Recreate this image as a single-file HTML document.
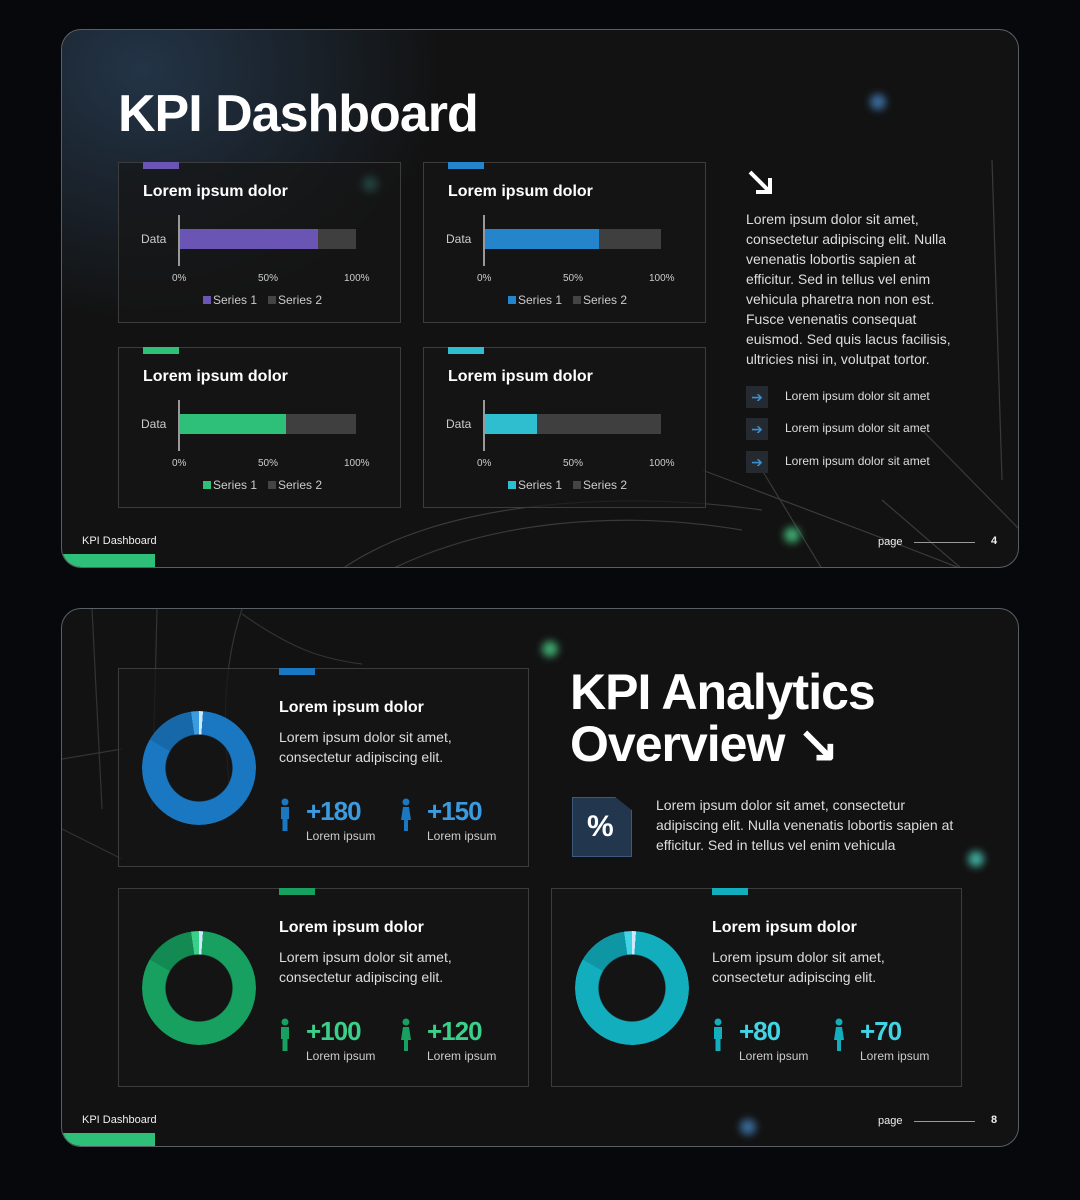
<!DOCTYPE html>
<html><head><meta charset="utf-8"><style>
*{margin:0;padding:0;box-sizing:border-box}
body{width:1080px;height:1200px;background:#06080c;position:relative;overflow:hidden;font-family:"Liberation Sans",sans-serif;color:#fff}
.a{position:absolute}
.slide{position:absolute;left:61px;width:958px;border:1px solid #5a5f66;border-radius:20px;overflow:hidden;background:#121212}
.panel{position:absolute;border:1.5px solid #3c3c3c;background:rgba(22,22,22,.7)}
.acc{position:absolute;height:7px;width:36px}
.t{font-weight:bold;font-size:16px;white-space:nowrap}
.sm{font-size:11px;color:#ccc;white-space:nowrap}
.body{font-size:14px;color:#ddd;line-height:20px}
.num{font-weight:bold;font-size:26px;white-space:nowrap;letter-spacing:-1px}
.glow{position:absolute;width:16px;height:16px;border-radius:50%;filter:blur(4px)}
</style></head><body>

<!-- Slide 1 -->
<div class="slide" style="top:29px;height:539px;background:radial-gradient(ellipse 300px 250px at 80px 40px,#233447 0%,rgba(20,22,26,0) 100%),#121212">
<svg class="a" style="left:0;top:0" width="958" height="539" fill="none" stroke="#3a3a3a" stroke-width="1.2">
<path d="M280 539 C380 470 560 460 700 480"/><path d="M330 539 C430 490 560 480 680 500"/>
<path d="M640 440 C720 470 800 500 900 539"/><path d="M700 440 L760 539"/><path d="M820 470 L900 539"/>
<path d="M860 400 L958 500"/><path d="M930 130 L940 450"/>
</svg>
<div class="glow" style="left:808px;top:64px;background:#3a6a9a"></div>
<div class="glow" style="left:300px;top:146px;background:#3fa89a"></div>
<div class="glow" style="left:722px;top:497px;background:#3fa870"></div>
<div class="a" style="left:56px;top:54px;font-size:52px;font-weight:bold;letter-spacing:-1px">KPI Dashboard</div>
<div class="a sm" style="left:20px;top:505px;color:#eee">KPI Dashboard</div>
<div class="a" style="left:0;top:524px;width:93px;height:15px;background:#2ebf78"></div>
<div class="a sm" style="left:816px;top:506px;color:#eee">page</div>
<div class="a" style="left:852px;top:512px;width:61px;height:1px;background:#999"></div>
<div class="a sm" style="left:929px;top:505px;color:#eee;font-weight:bold">4</div>
<svg class="a" style="left:684px;top:138px" width="30" height="30"><path d="M4 4 L24 24 M10 24 H24 V10" stroke="#fff" stroke-width="4" fill="none"/></svg>
<div class="a body" style="left:684px;top:179px;width:220px">Lorem ipsum dolor sit amet, consectetur adipiscing elit. Nulla venenatis lobortis sapien at efficitur. Sed in tellus vel enim vehicula pharetra non non est. Fusce venenatis consequat euismod. Sed quis lacus facilisis, ultricies nisi in, volutpat tortor.</div>
</div>

<!-- Slide 2 -->
<div class="slide" style="top:608px;height:539px">
<svg class="a" style="left:0;top:0" width="958" height="539" fill="none" stroke="#333" stroke-width="1.2">
<path d="M30 0 L40 200"/><path d="M95 0 L90 200"/><path d="M180 0 C160 60 160 120 170 200"/><path d="M180 5 C230 40 260 50 300 55"/>
<path d="M0 150 L60 140"/><path d="M0 220 L60 250"/>
</svg>
<div class="glow" style="left:480px;top:32px;background:#3fa870"></div>
<div class="glow" style="left:906px;top:242px;background:#3fa89a"></div>
<div class="glow" style="left:678px;top:510px;background:#3a6a9a"></div>
<div class="a" style="left:508px;top:57px;font-size:50px;font-weight:bold;line-height:52px;letter-spacing:-1px">KPI Analytics<br>Overview ↘</div>
<div class="a" style="left:510px;top:188px;width:60px;height:60px;background:#22364d;border:1px solid #3d5a7a;clip-path:polygon(0 0,72% 0,100% 22%,100% 100%,0 100%)"></div>
<div class="a" style="left:525px;top:201px;font-size:30px;font-weight:bold">%</div>
<div class="a body" style="left:594px;top:186px;width:305px">Lorem ipsum dolor sit amet, consectetur adipiscing elit. Nulla venenatis lobortis sapien at efficitur. Sed in tellus vel enim vehicula</div>
<div class="a sm" style="left:20px;top:505px;color:#eee">KPI Dashboard</div>
<div class="a" style="left:0;top:524px;width:93px;height:15px;background:#2ebf78"></div>
<div class="a sm" style="left:816px;top:506px;color:#eee">page</div>
<div class="a" style="left:852px;top:512px;width:61px;height:1px;background:#999"></div>
<div class="a sm" style="left:929px;top:505px;color:#eee;font-weight:bold">8</div>
</div>

<!-- bullets -->
<div class="a" style="left:746px;top:386px;width:22px;height:22px;background:#252a30;color:#3a8fd0;font-size:14px;text-align:center;line-height:22px">➔</div>
<div class="a" style="left:746px;top:418px;width:22px;height:22px;background:#252a30;color:#3a8fd0;font-size:14px;text-align:center;line-height:22px">➔</div>
<div class="a" style="left:746px;top:451px;width:22px;height:22px;background:#252a30;color:#3a8fd0;font-size:14px;text-align:center;line-height:22px">➔</div>
<div class="a sm" style="left:785px;top:389px;font-size:12px;color:#ddd">Lorem ipsum dolor sit amet</div>
<div class="a sm" style="left:785px;top:421px;font-size:12px;color:#ddd">Lorem ipsum dolor sit amet</div>
<div class="a sm" style="left:785px;top:454px;font-size:12px;color:#ddd">Lorem ipsum dolor sit amet</div>

<!-- bar panels -->
<div class="panel" style="left:118px;top:162px;width:283px;height:161px"></div>
<div class="panel" style="left:423px;top:162px;width:283px;height:161px"></div>
<div class="panel" style="left:118px;top:347px;width:283px;height:161px"></div>
<div class="panel" style="left:423px;top:347px;width:283px;height:161px"></div>

<div id="bars"></div>
<script>
var B=[[118,162,'#6a55b4',138],[423,162,'#2485cc',114],[118,347,'#2ebf78',106],[423,347,'#2ebed0',52]];
var h='';
B.forEach(function(b){var x=b[0],y=b[1];
h+='<div class="acc" style="left:'+(x+25)+'px;top:'+y+'px;background:'+b[2]+'"></div>';
h+='<div class="a t" style="left:'+(x+25)+'px;top:'+(y+21)+'px">Lorem ipsum dolor</div>';
h+='<div class="a sm" style="left:'+(x+23)+'px;top:'+(y+70)+'px;font-size:12px">Data</div>';
h+='<div class="a" style="left:'+(x+60)+'px;top:'+(y+53)+'px;width:2px;height:51px;background:#999"></div>';
h+='<div class="a" style="left:'+(x+62)+'px;top:'+(y+67)+'px;width:176px;height:20px;background:#3f3f3f"></div>';
h+='<div class="a" style="left:'+(x+62)+'px;top:'+(y+67)+'px;width:'+b[3]+'px;height:20px;background:'+b[2]+'"></div>';
h+='<div class="a sm" style="left:'+(x+54)+'px;top:'+(y+111)+'px;font-size:10px">0%</div>';
h+='<div class="a sm" style="left:'+(x+140)+'px;top:'+(y+111)+'px;font-size:10px">50%</div>';
h+='<div class="a sm" style="left:'+(x+226)+'px;top:'+(y+111)+'px;font-size:10px">100%</div>';
h+='<div class="a" style="left:'+(x+85)+'px;top:'+(y+134)+'px;width:8px;height:8px;background:'+b[2]+'"></div>';
h+='<div class="a sm" style="left:'+(x+95)+'px;top:'+(y+131)+'px;font-size:12px">Series 1</div>';
h+='<div class="a" style="left:'+(x+150)+'px;top:'+(y+134)+'px;width:8px;height:8px;background:#444"></div>';
h+='<div class="a sm" style="left:'+(x+160)+'px;top:'+(y+131)+'px;font-size:12px">Series 2</div>';
});
var D=[[118,668,'#1a78c2','#1668a8','#3a9be0','+180','+150'],[118,888,'#17a060','#128a52','#3ad08a','+100','+120'],[551,888,'#13aebe','#0f96a4','#40d4e4','+80','+70']];
D.forEach(function(d){var x=d[0],y=d[1];
h+='<div class="panel" style="left:'+x+'px;top:'+y+'px;width:411px;height:199px"></div>';
h+='<div class="acc" style="left:'+(x+161)+'px;top:'+y+'px;background:'+d[2]+'"></div>';
h+='<div class="a" style="left:'+(x+24)+'px;top:'+(y+43)+'px;width:114px;height:114px;border-radius:50%;background:conic-gradient(#cfe8ff 0deg 4deg,'+d[2]+' 4deg 300deg,'+d[3]+' 300deg 352deg,'+d[4]+' 352deg 360deg);-webkit-mask:radial-gradient(circle,transparent 33px,#000 34px);mask:radial-gradient(circle,transparent 33px,#000 34px)"></div>';
h+='<div class="a t" style="left:'+(x+161)+'px;top:'+(y+31)+'px">Lorem ipsum dolor</div>';
h+='<div class="a body" style="left:'+(x+161)+'px;top:'+(y+59)+'px">Lorem ipsum dolor sit amet,<br>consectetur adipiscing elit.</div>';
[[x+161,d[5],0],[x+282,d[6],1]].forEach(function(p){
h+='<svg class="a" style="left:'+p[0]+'px;top:'+(y+130)+'px" width="12" height="34"><circle cx="6" cy="4" r="3.5" fill="'+d[2]+'"/>'+(p[2]?'<path d="M3 9 H9 L11 22 H8 V33 H4 V22 H1 Z" fill="'+d[2]+'"/>':'<path d="M2 9 H10 V21 H8.5 V33 H3.5 V21 H2 Z" fill="'+d[2]+'"/>')+'</svg>';
h+='<div class="a num" style="left:'+(p[0]+27)+'px;top:'+(y+128)+'px;color:'+d[4]+'">'+p[1]+'</div>';
h+='<div class="a sm" style="left:'+(p[0]+27)+'px;top:'+(y+161)+'px;font-size:12px">Lorem ipsum</div>';
});
});
document.getElementById('bars').innerHTML=h;
</script>
</body></html>
